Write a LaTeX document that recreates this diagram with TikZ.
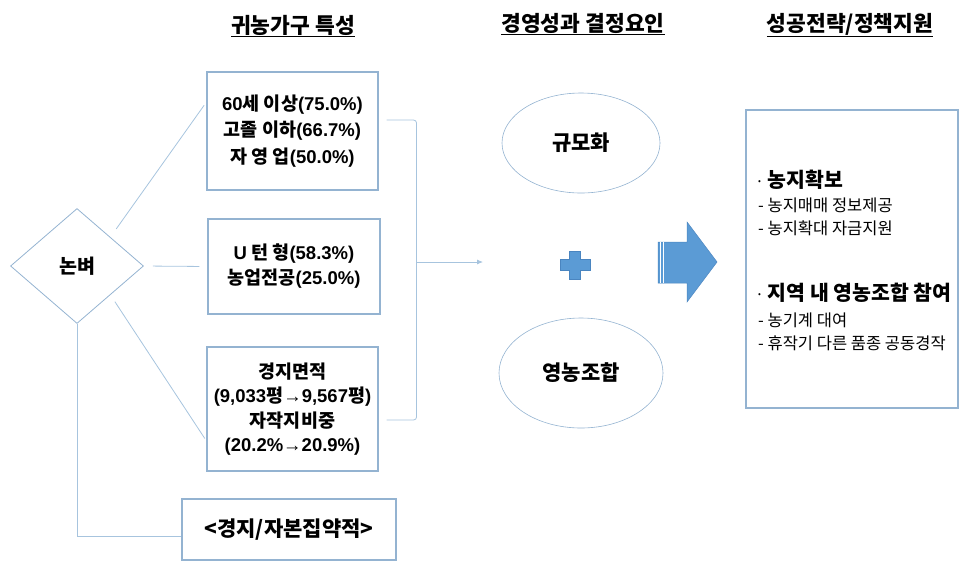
\documentclass[tikz,border=0pt]{standalone}
\usepackage{xcolor}
\definecolor{94b3d1}{HTML}{94B3D1}
\definecolor{a7c4de}{HTML}{A7C4DE}
\definecolor{5b9bd5}{HTML}{5B9BD5}
\definecolor{4a85c0}{HTML}{4A85C0}
\usepackage{tikz}
\usepackage{fontspec}
\newfontfamily\kr{Noto Sans CJK KR}
\newfontfamily\lat{Liberation Sans}
\usetikzlibrary{shapes.geometric}
\usetikzlibrary{arrows.meta}

\begin{document}
\begin{tikzpicture}[x=1pt, y=1pt,
            box/.style={draw=94b3d1, line width=1.1pt, align=center, inner sep=0pt, font=\kr\bfseries\fontsize{18.5}{25}\selectfont},
            link/.style={draw=a7c4de, line width=0.8pt},
            oval/.style={ellipse, draw=94b3d1, line width=0.6pt, inner sep=0pt, font=\kr\bfseries\fontsize{21}{25}\selectfont},
            head/.style={anchor=base, font=\kr\bfseries\fontsize{21.5}{25}\selectfont},
            item/.style={anchor=west, inner sep=0pt, font=\kr\fontsize{16.5}{19}\selectfont},
            lead/.style={anchor=west, inner sep=0pt, font=\kr\bfseries\fontsize{20.5}{24}\selectfont}]
            \useasboundingbox (0, 0) rectangle (963, -566);

            \node[head] (h1) at (293, -33) {\underline{귀농가구 특성}};
            \node[head] (h2) at (583, -31) {\underline{경영성과 결정요인}};
            \node[head] (h3) at (850, -31) {\underline{성공전략/정책지원}};

            \node[diamond, draw=94b3d1, line width=0.8pt, minimum width=133pt, minimum height=115pt, inner sep=0pt, font=\kr\bfseries\fontsize{19.5}{23}\selectfont] (rice) at (77, -266) {논벼};

            \node[box, minimum width=171pt, minimum height=118pt, font=\kr\bfseries\fontsize{18.5}{26.5}\selectfont] (b1) at (292.5, -131) {{\lat 60}세 이상{\lat (75.0\%)}\\고졸 이하{\lat (66.7\%)}\\자 영 업{\lat (50.0\%)}};
            \node[box, minimum width=172pt, minimum height=95pt] (b2) at (294, -266.5) {{\lat U} 턴 형{\lat (58.3\%)}\\농업전공{\lat (25.0\%)}};
            \node[box, minimum width=171pt, minimum height=124pt, font=\kr\bfseries\fontsize{18.5}{24.5}\selectfont] (b3) at (292.5, -409) {경지면적\\{\lat (9,033}평{\lat →9,567}평{\lat )}\\자작지비중\\{\lat (20.2\%→20.9\%)}};
            \node[box, minimum width=214pt, minimum height=61pt, font=\kr\bfseries\fontsize{21}{25}\selectfont] (b4) at (289, -529.5) {<경지/자본집약적>};

            \draw[link, shorten <=10pt, shorten >=4pt] (rice.north east) -- ([yshift=29pt]b1.west);
            \draw[link, shorten <=9pt, shorten >=8pt] (rice.east) -- (b2.west);
            \draw[link, shorten <=8pt, shorten >=3pt] (rice.south east) -- ([yshift=-32pt]b3.west);
            \draw[link] (rice.south) |- ([yshift=-7pt]b4.west);

            % bracket round the three boxes
            \draw[link, rounded corners=3pt] ([xshift=8pt, yshift=11pt]b1.east) -- ++(30, 0) -- ++(0, -300) -- ++(-30, 0);
            \coordinate (mid) at (416, -262);
            \coordinate (into) at (483, -262);
            \draw[link, -{Latex[length=6pt, width=5pt]}] (mid) -- (into);

            \node[oval, minimum width=158pt, minimum height=100pt] (scale) at (581, -143) {규모화};
            \node[oval, minimum width=164pt, minimum height=110pt] (coop) at (581, -373) {영농조합};

            % plus sign
            \filldraw[fill=5b9bd5, draw=4a85c0, line width=0.4pt] (569.5, -251) -- (580.5, -251) -- (580.5, -259.5) -- (590, -259.5) -- (590, -270.5) -- (580.5, -270.5) -- (580.5, -279) -- (569.5, -279) -- (569.5, -270.5) -- (560, -270.5) -- (560, -259.5) -- (569.5, -259.5) -- cycle;

            % striped arrow
            \filldraw[fill=5b9bd5, draw=4a85c0, line width=0.5pt] (658, -242) -- (687, -242) -- (687, -222) -- (717, -262) -- (687, -302) -- (687, -283) -- (658, -283) -- cycle;
            \draw[white, line width=0.7pt] (660.5, -242) -- (660.5, -283) (663.5, -242) -- (663.5, -283);

            \node[draw=94b3d1, line width=1.1pt, minimum width=212pt, minimum height=298pt, inner sep=0pt] (plan) at (852, -259) {};
            \node[lead] (p1) at (755, -180) {\mdseries\fontsize{16}{19}\selectfont· \bfseries\fontsize{20.5}{24}\selectfont 농지확보};
            \node[item] (p11) at (758, -205) {- 농지매매 정보제공};
            \node[item] (p12) at (758, -228) {- 농지확대 자금지원};
            \node[lead] (p2) at (755, -293) {\mdseries\fontsize{16}{19}\selectfont· \bfseries\fontsize{20.5}{24}\selectfont 지역 내 영농조합 참여};
            \node[item] (p21) at (758, -320) {- 농기계 대여};
            \node[item] (p22) at (758, -343) {- 휴작기 다른 품종 공동경작};
        \end{tikzpicture}
\end{document}
